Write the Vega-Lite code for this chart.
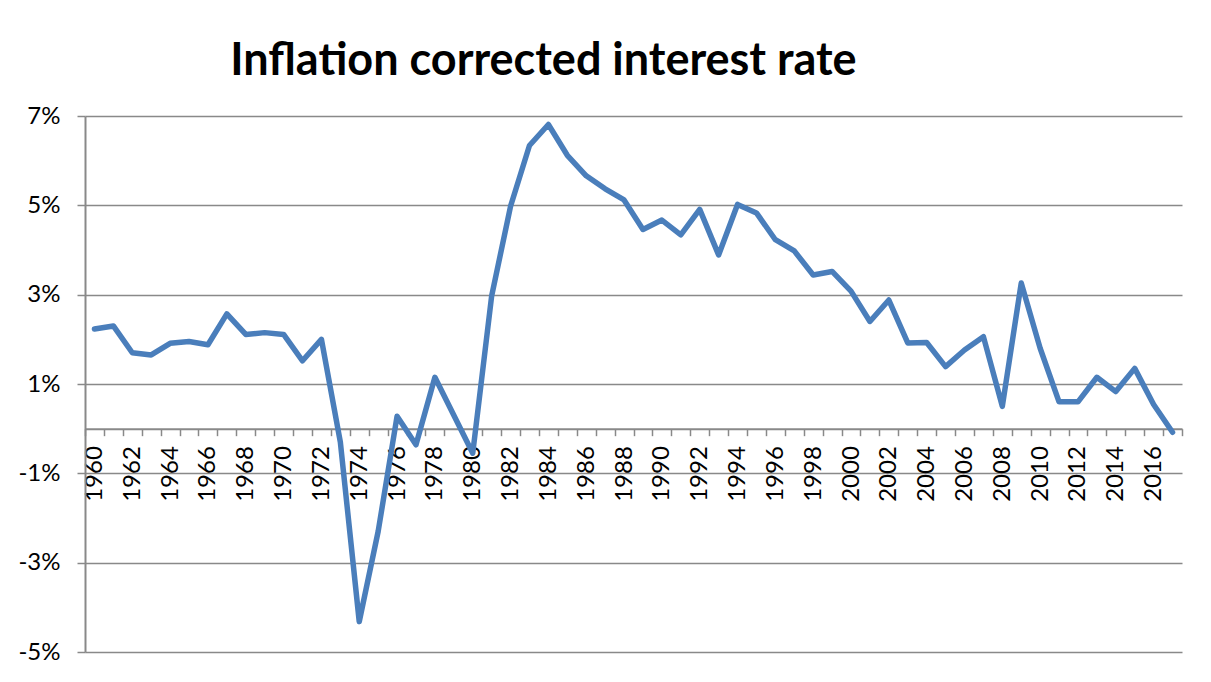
{
  "$schema": "https://vega.github.io/schema/vega-lite/v6.json",
  "autosize": {"type": "none"},
  "padding": {"left": 85, "top": 116, "right": 29, "bottom": 30},
  "width": 1097,
  "height": 536,
  "background": "white",
  "config": {"view": {"stroke": null}, "font": "Lato"},
  "title": {
    "text": "Inflation corrected interest rate",
    "font": "Lato",
    "fontSize": 45,
    "fontWeight": "bold",
    "color": "black",
    "anchor": "middle",
    "frame": "group",
    "dx": -90,
    "offset": -16,
    "baseline": "alphabetic"
  },
  "data": {
    "values": [
      {"year": 1960, "rate": 2.23},
      {"year": 1961, "rate": 2.30},
      {"year": 1962, "rate": 1.70},
      {"year": 1963, "rate": 1.65},
      {"year": 1964, "rate": 1.91},
      {"year": 1965, "rate": 1.95},
      {"year": 1966, "rate": 1.88},
      {"year": 1967, "rate": 2.57},
      {"year": 1968, "rate": 2.11},
      {"year": 1969, "rate": 2.15},
      {"year": 1970, "rate": 2.11},
      {"year": 1971, "rate": 1.52},
      {"year": 1972, "rate": 2.00},
      {"year": 1973, "rate": -0.30},
      {"year": 1974, "rate": -4.32},
      {"year": 1975, "rate": -2.30},
      {"year": 1976, "rate": 0.28},
      {"year": 1977, "rate": -0.36},
      {"year": 1978, "rate": 1.15},
      {"year": 1979, "rate": 0.30},
      {"year": 1980, "rate": -0.55},
      {"year": 1981, "rate": 2.97},
      {"year": 1982, "rate": 4.98},
      {"year": 1983, "rate": 6.34},
      {"year": 1984, "rate": 6.81},
      {"year": 1985, "rate": 6.12},
      {"year": 1986, "rate": 5.66},
      {"year": 1987, "rate": 5.37},
      {"year": 1988, "rate": 5.12},
      {"year": 1989, "rate": 4.46},
      {"year": 1990, "rate": 4.67},
      {"year": 1991, "rate": 4.34},
      {"year": 1992, "rate": 4.91},
      {"year": 1993, "rate": 3.89},
      {"year": 1994, "rate": 5.02},
      {"year": 1995, "rate": 4.83},
      {"year": 1996, "rate": 4.23},
      {"year": 1997, "rate": 3.98},
      {"year": 1998, "rate": 3.44},
      {"year": 1999, "rate": 3.52},
      {"year": 2000, "rate": 3.08},
      {"year": 2001, "rate": 2.40},
      {"year": 2002, "rate": 2.88},
      {"year": 2003, "rate": 1.92},
      {"year": 2004, "rate": 1.93},
      {"year": 2005, "rate": 1.39},
      {"year": 2006, "rate": 1.76},
      {"year": 2007, "rate": 2.06},
      {"year": 2008, "rate": 0.50},
      {"year": 2009, "rate": 3.26},
      {"year": 2010, "rate": 1.80},
      {"year": 2011, "rate": 0.60},
      {"year": 2012, "rate": 0.60},
      {"year": 2013, "rate": 1.15},
      {"year": 2014, "rate": 0.83},
      {"year": 2015, "rate": 1.35},
      {"year": 2016, "rate": 0.54},
      {"year": 2017, "rate": -0.08}
    ]
  },
  "mark": {"type": "line", "color": "#4a7ebb", "strokeWidth": 5.5, "strokeJoin": "round", "strokeCap": "round"},
  "encoding": {
    "x": {
      "field": "year",
      "type": "quantitative",
      "scale": {"domain": [1959.5, 2017.5], "nice": false, "zero": false},
      "axis": {
        "title": null,
        "orient": "bottom",
        "offset": -223.33,
        "grid": false,
        "values": [1959.5,1960,1960.5,1961,1961.5,1962,1962.5,1963,1963.5,1964,1964.5,1965,1965.5,1966,1966.5,1967,1967.5,1968,1968.5,1969,1969.5,1970,1970.5,1971,1971.5,1972,1972.5,1973,1973.5,1974,1974.5,1975,1975.5,1976,1976.5,1977,1977.5,1978,1978.5,1979,1979.5,1980,1980.5,1981,1981.5,1982,1982.5,1983,1983.5,1984,1984.5,1985,1985.5,1986,1986.5,1987,1987.5,1988,1988.5,1989,1989.5,1990,1990.5,1991,1991.5,1992,1992.5,1993,1993.5,1994,1994.5,1995,1995.5,1996,1996.5,1997,1997.5,1998,1998.5,1999,1999.5,2000,2000.5,2001,2001.5,2002,2002.5,2003,2003.5,2004,2004.5,2005,2005.5,2006,2006.5,2007,2007.5,2008,2008.5,2009,2009.5,2010,2010.5,2011,2011.5,2012,2012.5,2013,2013.5,2014,2014.5,2015,2015.5,2016,2016.5,2017,2017.5],
        "labelExpr": "datum.value % 2 === 0 ? format(datum.value, 'd') : ''",
        "labelAngle": -90,
        "labelOverlap": false,
        "labelFlush": false,
        "labelBound": false,
        "labelFont": "Lato",
        "labelFontSize": 24,
        "labelColor": "black",
        "labelPadding": 10,
        "domainColor": "#898989",
        "domainWidth": 2,
        "tickColor": "#898989",
        "tickWidth": 1.5,
        "tickSize": 7,
        "tickOpacity": {"condition": {"test": "datum.value % 1 !== 0", "value": 1}, "value": 0}
      }
    },
    "y": {
      "field": "rate",
      "type": "quantitative",
      "scale": {"domain": [-5, 7], "nice": false, "zero": false},
      "axis": {
        "title": null,
        "values": [-5, -3, -1, 1, 3, 5, 7],
        "labelExpr": "datum.value + '%'",
        "labelFont": "Lato",
        "labelFontSize": 24,
        "labelColor": "black",
        "labelPadding": 17,
        "grid": true,
        "gridColor": "#898989",
        "gridWidth": 1.5,
        "domainColor": "#898989",
        "domainWidth": 2,
        "tickColor": "#898989",
        "tickWidth": 1.5,
        "tickSize": 8
      }
    }
  }
}
